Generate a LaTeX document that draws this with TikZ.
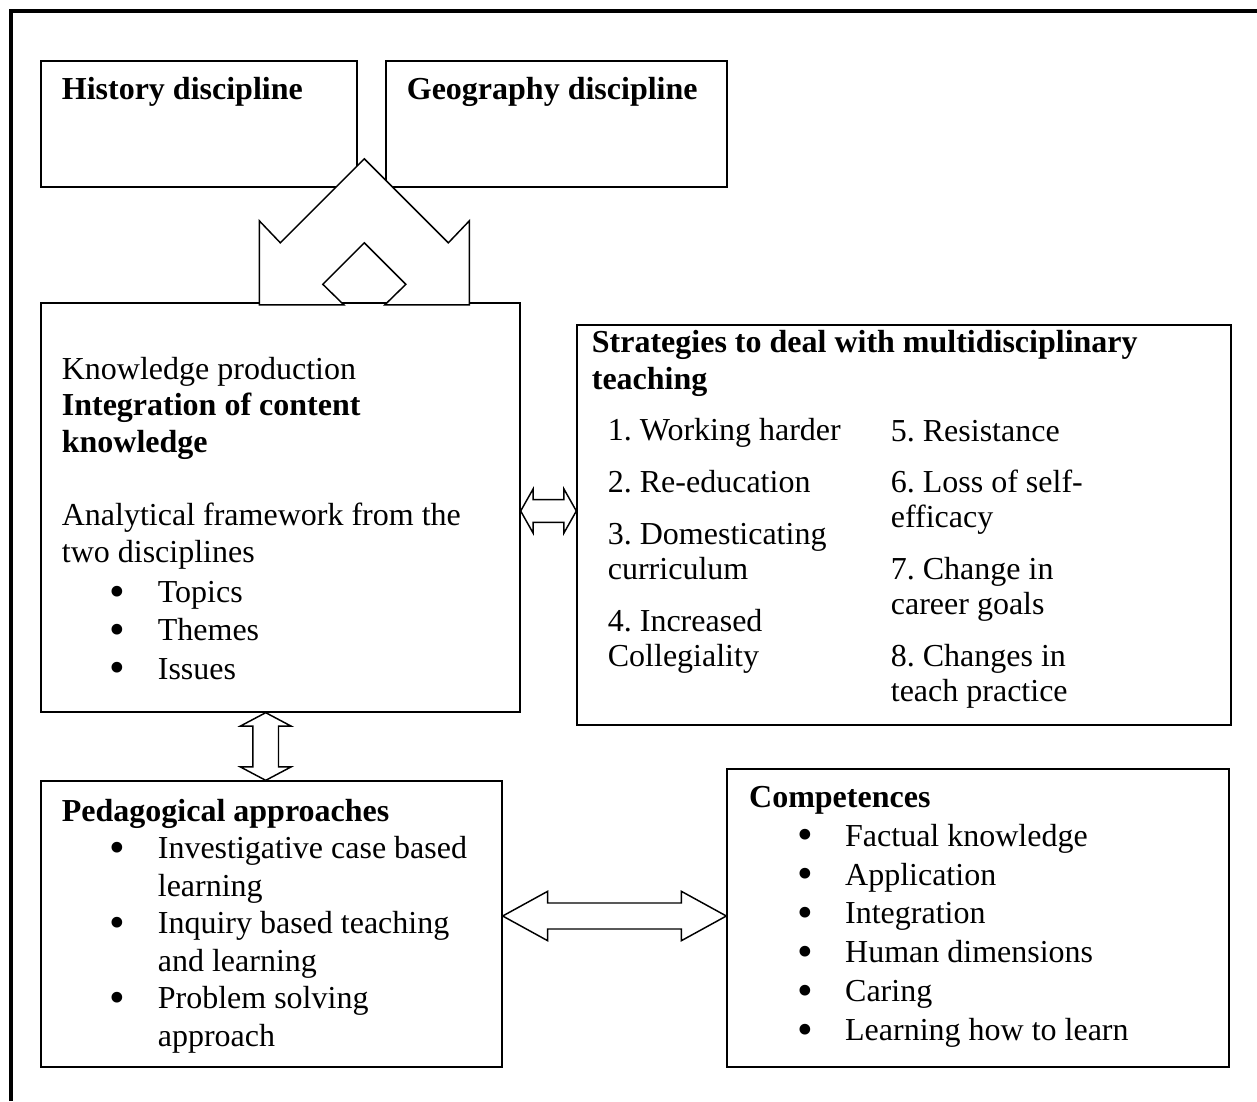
\documentclass[tikz,border=0pt]{standalone}
\usepackage{fontspec}
\setmainfont{Liberation Serif}
\usetikzlibrary{
    calc,
    fit
}
\frenchspacing

% bullet item and its continuation line
\newcommand{\bigbullet}{\smash{\raisebox{-1.3pt}{\scalebox{1.4}{\textbullet}}}}
\newcommand{\itm}[1]{\hspace*{18pt}\makebox[18pt][l]{\bigbullet}#1}
\newcommand{\cnt}[1]{\hspace*{36pt}#1}

% double block arrows: tips, head length, head half width, shaft half width
\newcommand{\hblock}[5]{%
    \draw[blockarrow] (#1) -- ($(#1)+(#3,-#4)$) -- ($(#1)+(#3,-#5)$)
    -- ($(#2)+(-#3,-#5)$) -- ($(#2)+(-#3,-#4)$) -- (#2)
    -- ($(#2)+(-#3,#4)$) -- ($(#2)+(-#3,#5)$)
    -- ($(#1)+(#3,#5)$) -- ($(#1)+(#3,#4)$) -- cycle;}
\newcommand{\vblock}[5]{%
    \draw[blockarrow] (#1) -- ($(#1)+(-#4,#3)$) -- ($(#1)+(-#5,#3)$)
    -- ($(#2)+(-#5,-#3)$) -- ($(#2)+(-#4,-#3)$) -- (#2)
    -- ($(#2)+(#4,-#3)$) -- ($(#2)+(#5,-#3)$)
    -- ($(#1)+(#5,#3)$) -- ($(#1)+(#4,#3)$) -- cycle;}

\begin{document}
\begin{tikzpicture}[
    x=0.375pt,
    y=-0.375pt,
    box/.style={
        draw,
        line width=0.5pt,
        inner sep=0pt
    },
    txt/.style={
        anchor=base west,
        inner sep=0pt,
        align=left,
        font=\fontsize{12pt}{13.75pt}\selectfont
    },
    blockarrow/.style={
        draw,
        fill=white,
        line width=0.55pt,
        line join=miter
    }
]

\useasboundingbox (0,0) rectangle (1257,1101);

% outer frame
\draw[line width=1.4pt] (11,1101) -- (11,11) -- (1257,11);

\node[box, fit={(41,61) (357,187)}] (hist) {};
\node[box, fit={(386,61) (727,187)}] (geo) {};
\node[box, fit={(41,303) (520,712)}] (know) {};
\node[box, fit={(577,325) (1231,725)}] (strat) {};
\node[box, fit={(41,781) (502,1067)}] (ped) {};
\node[box, fit={(727,769) (1229,1067)}] (comp) {};

% text blocks sit on the baseline of their last line
\node[txt] (histtxt) at ($(hist.north west)+(21,39)$)
{\textbf{History discipline}};

\node[txt] (geotxt) at ($(geo.north west)+(21,39)$)
{\textbf{Geography discipline}};

\node[txt] (knowtxt) at ($(know.north west)+(21,377)$)
{Knowledge production\\
\textbf{Integration of content}\\
\textbf{knowledge}\\[13.75pt]
Analytical framework from the\\
two disciplines\\[1.25pt]
\itm{Topics}\\[0.65pt]
\itm{Themes}\\[0.65pt]
\itm{Issues}};

\node[txt] (strattxt) at ($(strat.north west)+(15,65)$)
{\textbf{Strategies to deal with multidisciplinary}\\
\textbf{teaching}};

\node[txt, font=\fontsize{12pt}{13.1pt}\selectfont]
(stratleft) at ($(strat.north west)+(31,341.7)$)
{1. Working harder\\[6.3pt]
2. Re-education\\[6.3pt]
3. Domesticating\\
curriculum\\[6.3pt]
4. Increased\\
Collegiality};

\node[txt, font=\fontsize{12pt}{13.1pt}\selectfont]
(stratright) at ($(strat.north west)+(314,376.7)$)
{5. Resistance\\[6.3pt]
6. Loss of self-\\
efficacy\\[6.3pt]
7. Change in\\
career goals\\[6.3pt]
8. Changes in\\
teach practice};

\node[txt, font=\fontsize{12pt}{14.05pt}\selectfont]
(pedtxt) at ($(ped.north west)+(21,265.7)$)
{\textbf{Pedagogical approaches}\\
\itm{Investigative case based}\\
\cnt{learning}\\
\itm{Inquiry based teaching}\\
\cnt{and learning}\\
\itm{Problem solving}\\
\cnt{approach}};

\node[txt, font=\fontsize{12pt}{14.6pt}\selectfont]
(comptxt) at ($(comp.north west)+(22.3,272.4)$)
{\textbf{Competences}\\
\itm{Factual knowledge}\\
\itm{Application}\\
\itm{Integration}\\
\itm{Human dimensions}\\
\itm{Caring}\\
\itm{Learning how to learn}};

% the two disciplines feed the knowledge box
\coordinate (hg) at ($(know.north west)+(324,2.5)$);
\draw[blockarrow, shift={(hg)}]
(0,-146) -- (84,-62) -- (105,-84) -- (105,0) -- (20.5,0)
-- (41.5,-20.5) -- (0,-62) -- (-41.5,-20.5) -- (-20.5,0)
-- (-105,0) -- (-105,-84) -- (-84,-62) -- cycle;

\coordinate (ks) at (548,511);
\hblock{know.east |- ks}{strat.west |- ks}{12.4}{22}{11.3}

\coordinate (kp) at (265.7,746);
\vblock{know.south -| kp}{ped.north -| kp}{13.5}{25.5}{12.8}

\coordinate (pc) at (615,916);
\hblock{ped.east |- pc}{comp.west |- pc}{45}{24.7}{13}

\end{tikzpicture}
\end{document}
